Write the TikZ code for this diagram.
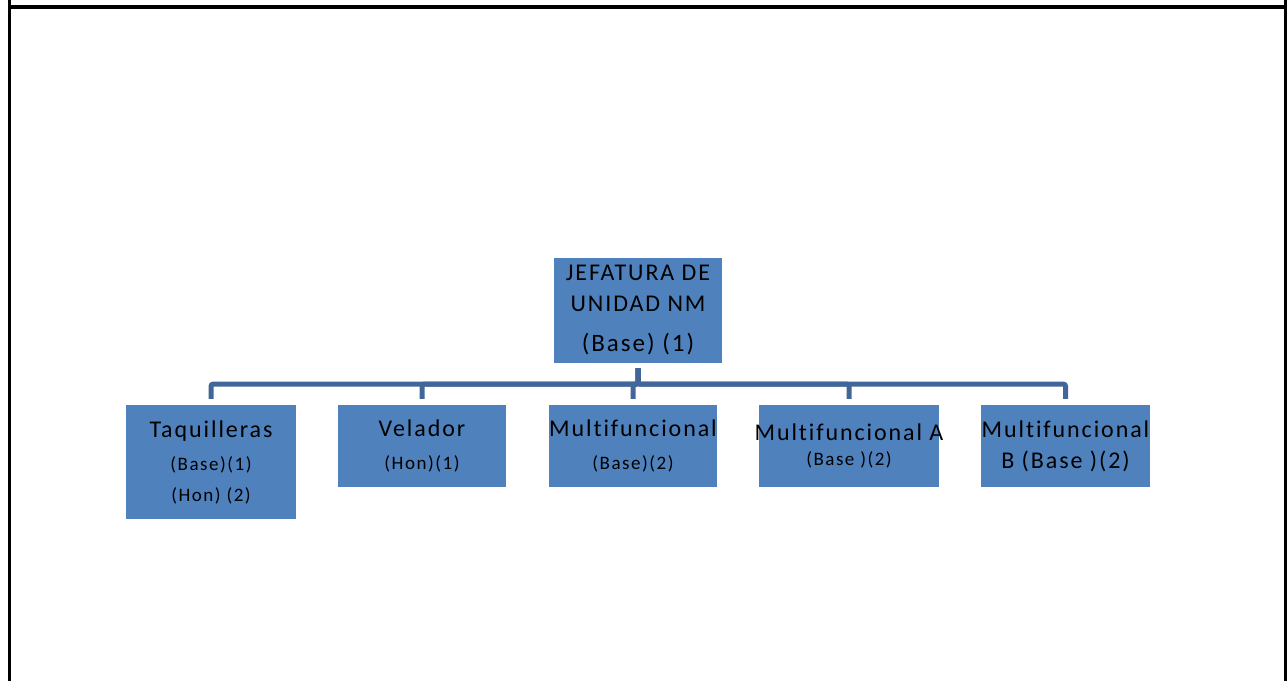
\documentclass[tikz,border=0pt]{standalone}
\usepackage{fontspec}
\setmainfont{Carlito}[LetterSpace=8, Ligatures={NoCommon}]
\definecolor{cajaazul}{HTML}{4F81BD}
\definecolor{lineaazul}{HTML}{41679A}
\tikzset{
  puesto/.style={fill=cajaazul, inner sep=0pt, align=center, minimum width=168pt, minimum height=82pt, font=\fontsize{24}{31}\selectfont},
  enlace/.style={draw=lineaazul, line width=5pt, rounded corners=2pt, shorten <=5pt, shorten >=6pt},
}
\newcommand{\chico}{\fontsize{19}{31}\selectfont}

\begin{document}
\begin{tikzpicture}[x=1pt,y=-1pt]
    \useasboundingbox (0,0) rectangle (1288,681);
    % marco
    \draw[line width=4pt] (8,7) -- (1287,7);
    \draw[line width=3pt] (9.5,0) -- (9.5,681);
    \draw[line width=3pt] (1285.5,0) -- (1285.5,681);

    \node[puesto, minimum height=105pt] (jefe) at (638,310.5) {JEFATURA DE\\UNIDAD NM\\[9pt]{\fontsize{25}{31}\selectfont (Base) (1)}};
    \node[puesto, minimum width=170pt, minimum height=114pt] (taq) at (211,462) {Taquilleras\\[2pt]{\chico (Base)(1)}\\{\chico (Hon) (2)}};
    \node[puesto] (vel) at (422,446) {Velador\\[2pt]{\chico (Hon)(1)}};
    \node[puesto] (mul) at (633,446) {Multifuncional\\[2pt]{\chico (Base)(2)}};
    \node[puesto, minimum width=180pt] (mula) at (849,446) {\makebox[170pt]{Multifuncional A}\\[-6pt]{\chico (Base )(2)}};
    \node[puesto, minimum width=169pt] (mulb) at (1065.5,446) {Multifuncional\\B (Base )(2)};

    \foreach \hijo in {taq,vel,mul,mula,mulb}
        \draw[enlace] (jefe.south) -- ++(0,21) -| (\hijo.north);
\end{tikzpicture}
\end{document}
